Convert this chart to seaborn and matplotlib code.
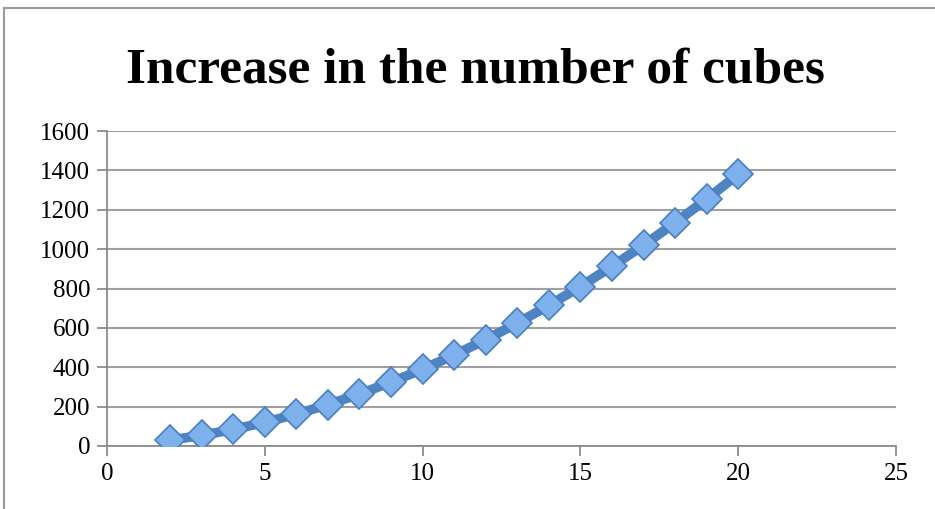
import matplotlib
matplotlib.use("Agg")
import matplotlib.pyplot as plt
import seaborn as sns
import pandas as pd
from matplotlib.patches import Rectangle

# values
steps = [2, 3, 4, 5, 6, 7, 8, 9, 10, 11, 12, 13, 14, 15, 16, 17, 18, 19, 20]
cubes = [30, 54, 84, 120, 162, 210, 264, 324, 390, 462, 540, 624, 714, 810, 912, 1020, 1134, 1254, 1380]
x_ticks = [0, 5, 10, 15, 20, 25]
y_ticks = [0, 200, 400, 600, 800, 1000, 1200, 1400, 1600]

df = pd.DataFrame({"step": steps, "cubes": cubes})

sns.set_style("white")
plt.rcParams['font.family'] = ['Liberation Serif', 'DejaVu Serif']
plt.rcParams['text.color'] = 'black'
plt.rcParams['xtick.labelcolor'] = 'black'
plt.rcParams['ytick.labelcolor'] = 'black'

fig = plt.figure(figsize=(9.35, 5.09), dpi=100)
ax = fig.add_axes([0.1144, 0.1238, 0.8439, 0.6188])

sns.lineplot(data=df, x="step", y="cubes", ax=ax, color="#4f84c2", linewidth=7,
             marker="D", markersize=15, markerfacecolor="#7eb0eb",
             markeredgecolor="#4a7fbf", markeredgewidth=1.2, zorder=3)

ax.set_xlim(0, 25)
ax.set_ylim(0, 1600)
ax.set_xticks(x_ticks)
ax.set_yticks(y_ticks)
ax.set_xlabel("")
ax.set_ylabel("")
ax.tick_params(axis="both", labelsize=18, length=7, width=1.3, color="#8c8c8c",
               direction="out", bottom=True, left=True, pad=5)
ax.yaxis.grid(True, color="#a0a0a0", linewidth=1.5)
ax.xaxis.grid(False)
for side in ["top", "right"]:
    ax.spines[side].set_visible(False)
for side in ["left", "bottom"]:
    ax.spines[side].set_color("#8c8c8c")
    ax.spines[side].set_linewidth(1.3)

fig.text(0.508, 0.862, "Increase in the number of cubes", ha="center", va="center",
         fontsize=37, fontweight="bold", color="black")

# outer chart frame (partly cut off)
fig.patches.append(Rectangle((4 / 935, -0.1), 1.2, (509 - 8) / 509 + 0.1,
                             transform=fig.transFigure, fill=False,
                             edgecolor="#9a9a9a", linewidth=1.5))

fig.savefig("out.png", dpi=100)
